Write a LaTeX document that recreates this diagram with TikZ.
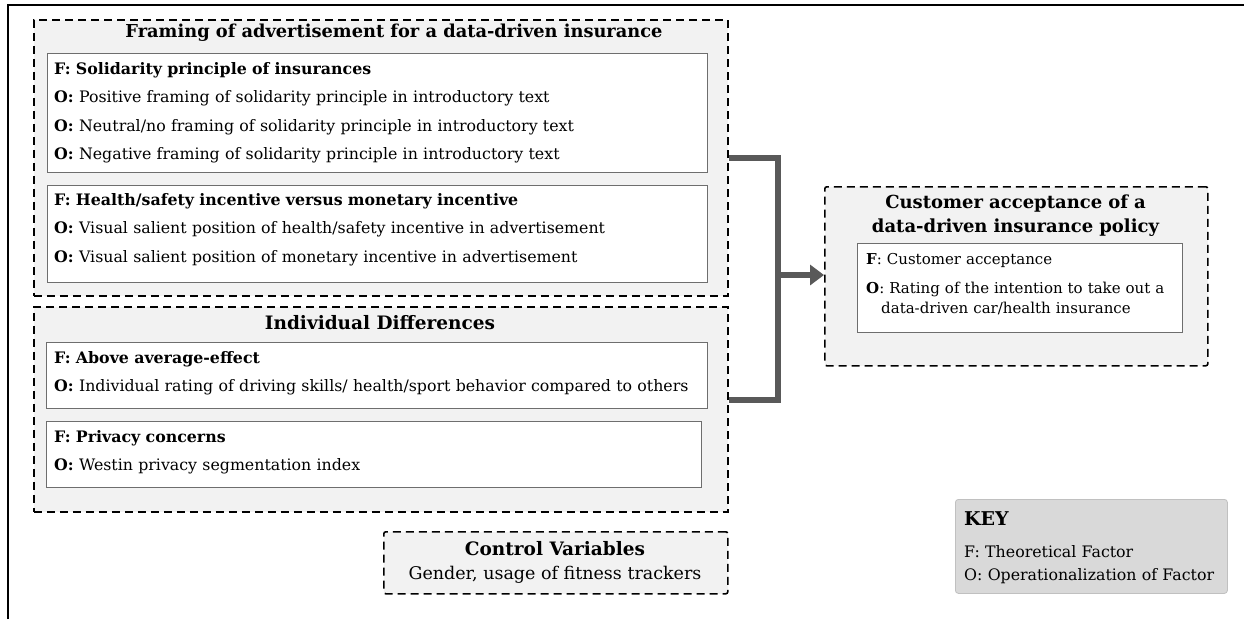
\documentclass[tikz,border=0pt]{standalone}
\usepackage{fontspec}
\setmainfont{DejaVu Serif}
\usepackage{tikz}
\usetikzlibrary{arrows.meta,positioning,calc}
\definecolor{grpfill}{HTML}{F2F2F2}
\definecolor{boxline}{HTML}{6E6E6E}
\definecolor{linkgray}{HTML}{595959}
\definecolor{keyfill}{HTML}{D9D9D9}
\definecolor{keyline}{HTML}{C0C0C0}

\begin{document}
\begin{tikzpicture}[x=1pt, y=-1pt,
    grp/.style={draw, line width=1.6pt, dash pattern=on 8pt off 5pt, fill=grpfill, anchor=north west, inner sep=0pt},
    fbox/.style={draw=boxline, line width=1.2pt, fill=white, anchor=north west, inner sep=0pt},
    lines/.style={anchor=base west, align=left, inner sep=0pt, text width=#1, font=\fontsize{15.8}{28.5}\selectfont},
    lines/.default=650pt,
    hdr/.style={anchor=base, inner sep=0pt, font=\fontsize{18}{24}\selectfont\bfseries},
    link/.style={line width=6pt, draw=linkgray}]
    \useasboundingbox (0,0) rectangle (1244,619);
    % outer frame (only top and left edges visible)
    \draw[line width=2.5pt] (8,619) -- (8,5) -- (1244,5);

    % framing of advertisement
    \node[grp, minimum width=694pt, minimum height=276pt] (frame) at (33,19) {};
    \node[hdr, font=\fontsize{17.8}{24}\selectfont\bfseries] (framehdr) at (394,37) {Framing of advertisement for a data-driven insurance};
    \node[fbox, minimum width=660pt, minimum height=119pt] (solid) at (47,53) {};
    \node[lines] (solidtxt) at (54,74) {\textbf{F: Solidarity principle of insurances}\\
        \textbf{O:} Positive framing of solidarity principle in introductory text\\
        \textbf{O:} Neutral/no framing of solidarity principle in introductory text\\
        \textbf{O:} Negative framing of solidarity principle in introductory text};
    \node[fbox, minimum width=660pt, minimum height=97pt] (health) at (47,185) {};
    \node[lines] (healthtxt) at (54,205) {\textbf{F: Health/safety incentive versus monetary incentive}\\
        \textbf{O:} Visual salient position of health/safety incentive in advertisement\\
        \textbf{O:} Visual salient position of monetary incentive in advertisement};

    % individual differences
    \node[grp, minimum width=694pt, minimum height=205pt] (indiv) at (33,306) {};
    \node[hdr, font=\fontsize{18.5}{24}\selectfont\bfseries] (indivhdr) at (380,329) {Individual Differences};
    \node[fbox, minimum width=661pt, minimum height=66pt] (above) at (46,342) {};
    \node[lines] (abovetxt) at (54,363) {\textbf{F: Above average-effect}\\
        \textbf{O:} Individual rating of driving skills/ health/sport behavior compared to others};
    \node[fbox, minimum width=655pt, minimum height=66pt] (privacy) at (46,421) {};
    \node[lines] (privacytxt) at (54,442) {\textbf{F: Privacy concerns}\\
        \textbf{O:} Westin privacy segmentation index};

    % control variables
    \node[grp, rounded corners=2pt, minimum width=344pt, minimum height=62pt] (ctrl) at (383,531) {};
    \node[hdr, font=\fontsize{18.5}{24}\selectfont\bfseries] (ctrlhdr) at (555,555) {Control Variables};
    \node[anchor=base, inner sep=0pt, font=\fontsize{17.5}{20}\selectfont] (ctrltxt) at (555,579) {Gender, usage of fitness trackers};

    % customer acceptance
    \node[grp, rounded corners=2pt, minimum width=383pt, minimum height=179pt] (cust) at (824,186) {};
    \node[hdr, text width=380pt, align=center] (custhdr) at (1015.5,208) {Customer acceptance of a\\data-driven insurance policy};
    \node[fbox, minimum width=325pt, minimum height=89pt] (custin) at (857,243) {};
    \node[lines=315pt, font=\fontsize{15}{29}\selectfont] (custtxt) at (866,264) {\textbf{F}: Customer acceptance\\
        \textbf{O}: Rating of the intention to take out a\\[-9pt]
        \hspace*{15pt}data-driven car/health insurance};

    % key
    \node[draw=keyline, fill=keyfill, rounded corners=3pt, line width=0.8pt, anchor=north west, inner sep=0pt,
        minimum width=272pt, minimum height=94pt] (key) at (955,499) {};
    \node[lines=262pt, font=\fontsize{15.8}{23}\selectfont] (keytxt) at (964,525) {{\fontsize{19}{23}\selectfont\textbf{KEY}}\\[9pt]
        F: Theoretical Factor\\
        O: Operationalization of Factor};

    % connectors
    \coordinate (jn) at (778,275);
    \draw[link] (frame.east) -| (jn) |- ([yshift=9.5pt]indiv.east);
    \draw[link, -{Triangle[length=14pt, width=20pt]}] (jn) -- (jn -| cust.west);
\end{tikzpicture}
\end{document}
